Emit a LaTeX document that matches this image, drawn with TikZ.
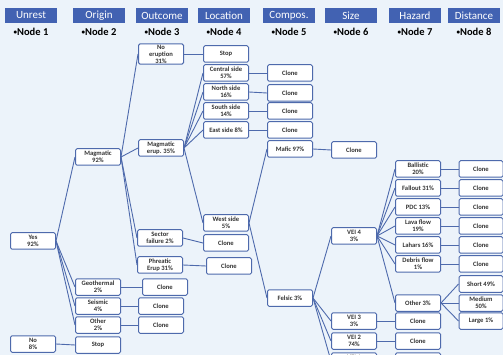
\documentclass[tikz,border=0pt]{standalone}
\usepackage{fontspec}
\setmainfont{Carlito}
\definecolor{headblue}{RGB}{66,98,178}
\definecolor{lineblue}{RGB}{78,106,172}
\definecolor{bgblue}{RGB}{236,243,250}

\begin{document}
\begin{tikzpicture}[x=1pt,y=-1pt,
	box node/.style = {rectangle,rounded corners=1.5pt,draw=lineblue,line width=1pt,fill=white,
		minimum width=45pt,minimum height=16.5pt,inner sep=1pt,align=center,
		font=\fontsize{6.6}{7}\selectfont\bfseries,text=black!80},
	head node/.style = {fill=headblue,text=white,minimum width=52pt,minimum height=15pt,
		inner sep=0pt,font=\fontsize{11}{11}\selectfont},
	label node/.style = {inner sep=0pt,font=\fontsize{10.5}{10.5}\selectfont\bfseries},
	link/.style = {draw=lineblue,line width=0.9pt}]
	
	\useasboundingbox (0,0) rectangle (503,355);
	\clip (0,0) rectangle (503,355);
	\fill[bgblue] (0,0) rectangle (503,355);
	
	% column heads
	\foreach \name/\x [count=\i] in {Unrest/31,Origin/99,Outcome/162,Location/224,
		Compos./289,Size/351,Hazard/415,Distance/474}{
		\node[head node] (h\i) at (\x,15.5) {\name};
		\node[label node] (n\i) at (\x,32) {\raisebox{1.2pt}{\fontsize{7}{7}\selectfont•}Node \i};
	}
	
	% node 1 and 2
	\node[box node] (yes) at (33,241) {Yes\\92\%};
	\node[box node] (no) at (33,344) {No\\8\%};
	\node[box node] (mag) at (98,157) {Magmatic\\92\%};
	\node[box node] (geo) at (98,287) {Geothermal\\2\%};
	\node[box node] (seis) at (98,306) {Seismic\\4\%};
	\node[box node] (oth) at (98,325) {Other\\2\%};
	\node[box node] (stopa) at (98,345) {Stop};
	
	% node 3
	\node[box node] (noerup) at (161,54) {No\\eruption\\31\%};
	\node[box node] (magerup) at (161,148) {Magmatic\\erup. 35\%};
	\node[box node] (sector) at (160,238) {Sector\\failure 2\%};
	\node[box node] (phrea) at (160,265) {Phreatic\\Erup 31\%};
	\node[box node] (cgeo) at (165,287) {Clone};
	\node[box node] (cseis) at (161,306) {Clone};
	\node[box node] (coth) at (161,325) {Clone};
	
	% node 4
	\node[box node] (stopb) at (226,54) {Stop};
	\node[box node] (central) at (226,73) {Central side\\57\%};
	\node[box node] (north) at (226,92) {North side\\16\%};
	\node[box node] (south) at (226,111) {South side\\14\%};
	\node[box node] (east) at (226,130) {East side 8\%};
	\node[box node] (west) at (226,223) {West side\\5\%};
	\node[box node] (csec) at (226,243) {Clone};
	\node[box node] (cphr) at (229,266) {Clone};
	
	% node 5
	\node[box node] (ccen) at (290,73) {Clone};
	\node[box node] (cnor) at (290,93) {Clone};
	\node[box node] (csou) at (290,111) {Clone};
	\node[box node] (ceas) at (290,130) {Clone};
	\node[box node] (mafic) at (290,149) {Mafic 97\%};
	\node[box node] (felsic) at (290,298) {Felsic 3\%};
	
	% node 6
	\node[box node] (cmaf) at (354,150) {Clone};
	\node[box node] (vei4) at (354,236) {VEI 4\\3\%};
	\node[box node] (vei3) at (354,321) {VEI 3\\3\%};
	\node[box node] (vei2) at (354,341) {VEI 2\\74\%};
	\node[box node] (vei1) at (354,361) {VEI 1\\\phantom{0\%}};
	
	% node 7
	\node[box node] (ball) at (418,169) {Ballistic\\20\%};
	\node[box node] (fall) at (418,188) {Fallout 31\%};
	\node[box node] (pdc) at (418,207) {PDC 13\%};
	\node[box node] (lava) at (418,226) {Lava flow\\19\%};
	\node[box node] (lah) at (418,245) {Lahars 16\%};
	\node[box node] (deb) at (418,264) {Debris flow\\1\%};
	\node[box node] (oth3) at (418,303) {Other 3\%};
	\node[box node] (cv3) at (418,321) {Clone};
	\node[box node] (cv2) at (418,341) {Clone};
	\node[box node] (cv1) at (418,361) {Clone};
	
	% node 8
	\foreach \n/\y in {cball/169,cfall/188,cpdc/207,clava/226,clah/245,cdeb/264}
		\node[box node,minimum width=44pt] (\n) at (481,\y) {Clone};
	\node[box node,minimum width=44pt] (short) at (481,284) {Short 49\%};
	\node[box node,minimum width=44pt] (medium) at (481,303) {Medium\\50\%};
	\node[box node,minimum width=44pt] (large) at (481,321) {Large 1\%};
	
	\foreach \a/\b in {yes/mag,yes/geo,yes/seis,yes/oth,no/stopa,
		mag/noerup,mag/magerup,mag/sector,mag/phrea,geo/cgeo,seis/cseis,oth/coth,
		noerup/stopb,magerup/central,magerup/north,magerup/south,magerup/east,magerup/west,
		sector/csec,phrea/cphr,central/ccen,north/cnor,south/csou,east/ceas,
		west/mafic,west/felsic,mafic/cmaf,
		felsic/vei4,felsic/vei3,felsic/vei2,felsic/vei1,
		vei4/ball,vei4/fall,vei4/pdc,vei4/lava,vei4/lah,vei4/deb,vei4/oth3,
		ball/cball,fall/cfall,pdc/cpdc,lava/clava,lah/clah,deb/cdeb,
		oth3/short,oth3/medium,oth3/large,vei3/cv3,vei2/cv2,vei1/cv1}
		\path[link] (\a.east) edge (\b.west);
\end{tikzpicture}
\end{document}
